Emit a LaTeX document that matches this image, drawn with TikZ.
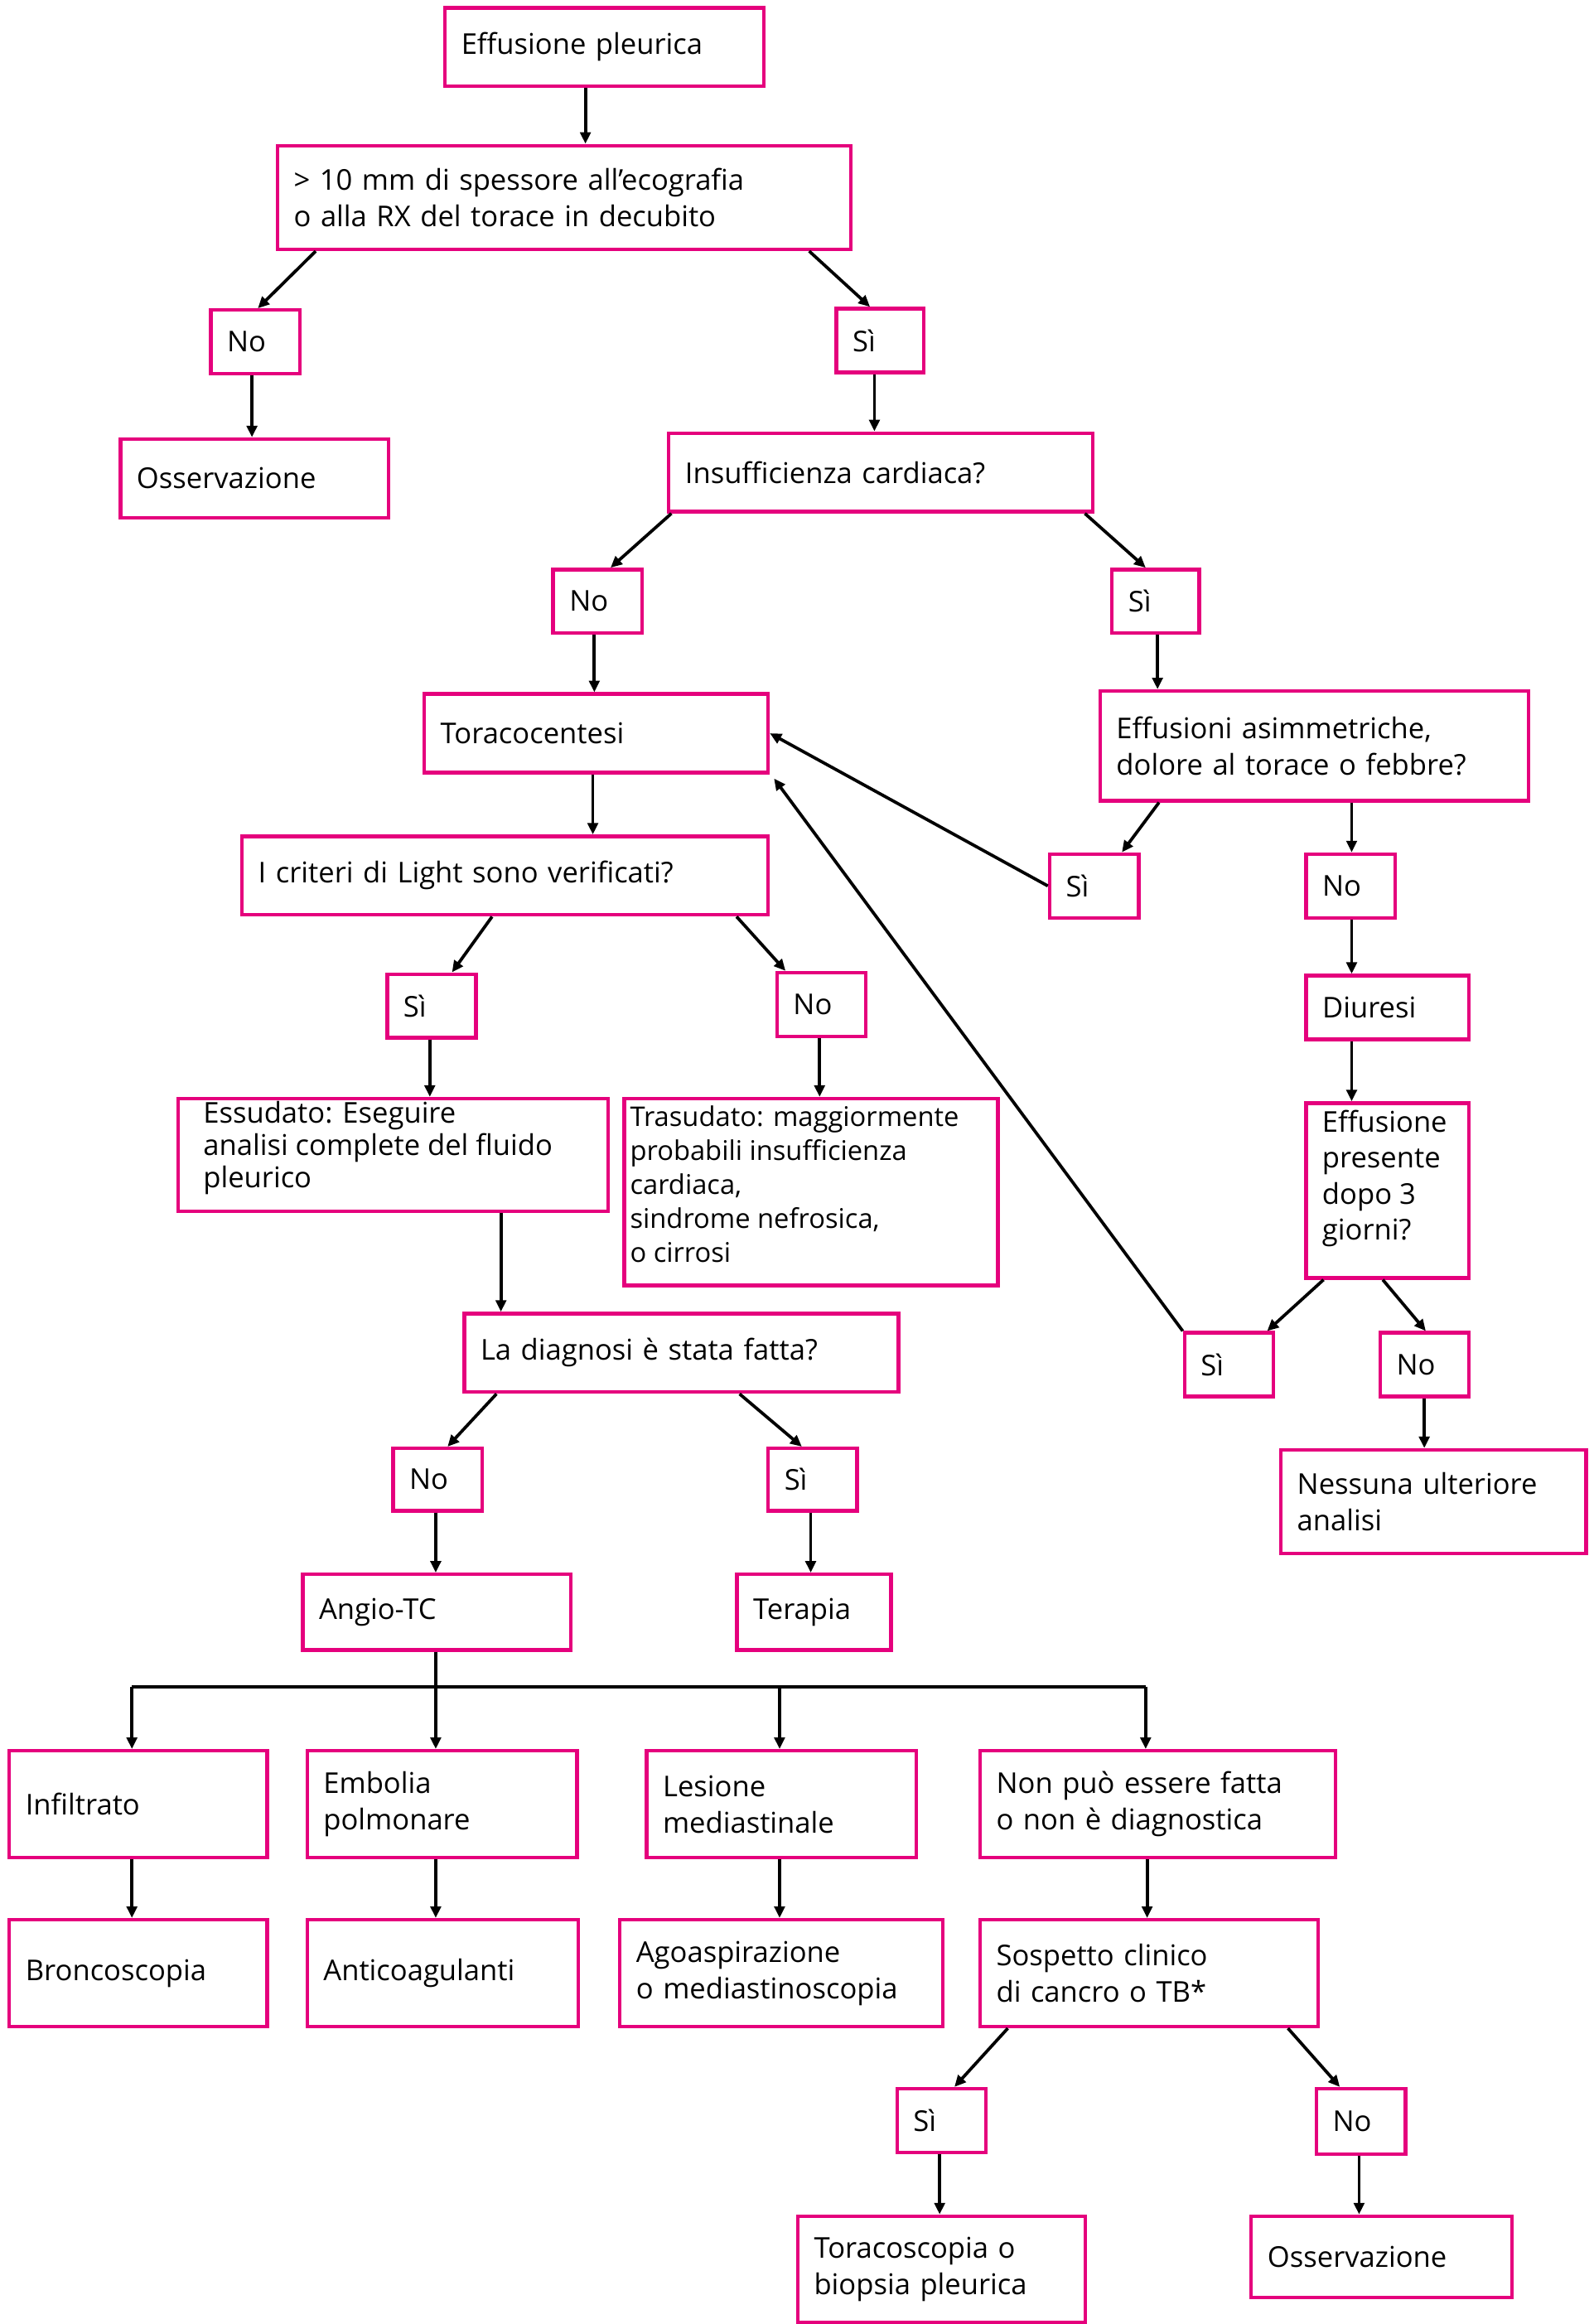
\documentclass[tikz,border=0pt]{standalone}
\usepackage{fontspec}
\setmainfont{Open Sans}
\usetikzlibrary{arrows.meta}
\definecolor{pk}{HTML}{E5007D}
\newcommand\bx[6]{%
\pgfmathsetmacro\bw{(#4-#2)*0.05}\pgfmathsetmacro\bh{(#5-#3)*0.05}\pgfmathsetmacro\tw{\bw-1.1}%
\node[box,minimum width=\bw cm,minimum height=\bh cm,text width=\tw cm,anchor=north west] (#1) at (#2,#3) {#6};}
\begin{document}
\begin{tikzpicture}[x=0.05cm,y=-0.05cm,
 box/.style={draw=pk,line width=3.5pt,inner xsep=0.55cm,inner ysep=0pt,align=left,font=\fontsize{27.5}{35}\selectfont},
 arr/.style={line width=3pt,-{Triangle[length=11pt,width=10pt]}},
 ln/.style={line width=3pt}]
\useasboundingbox (0,0) rectangle (1075,1568);
\bx{n1}{299}{4}{514}{57}{Effusione pleurica}
\bx{n2}{186}{97}{573}{167}{> 10 mm di spessore all'ecografia\\o alla RX del torace in decubito}
\bx{n3}{141}{208}{201}{251}{No}
\bx{n4}{563}{207}{622}{250}{Sì}
\bx{n5}{80}{295}{261}{348}{Osservazione}
\bx{n6}{450}{291}{736}{344}{Insufficienza cardiaca?}
\bx{n7}{372}{383}{432}{426}{No}
\bx{n8}{749}{383}{808}{426}{Sì}
\bx{n9}{285}{467}{517}{520}{Toracocentesi}
\bx{n10}{741}{465}{1030}{539}{Effusioni asimmetriche,\\dolore al torace o febbre?}
\bx{n11}{162}{563}{517}{616}{I criteri di Light sono verificati?}
\bx{n12}{707}{575}{767}{618}{Sì}
\bx{n13}{880}{575}{940}{618}{No}
\bx{n14}{260}{656}{320}{699}{Sì}
\bx{n15}{523}{655}{583}{698}{No}
\bx{n16}{880}{657}{990}{700}{Diuresi}
\node[draw=pk,line width=3.5pt,minimum width=14.5cm,minimum height=3.8cm,anchor=north west,inner sep=0pt] (n17) at (119,740) {};
\node[anchor=north west,align=left,font=\fontsize{27.5}{31}\selectfont,inner sep=0pt] at (137,743) {Essudato: Eseguire\\analisi complete del fluido\\pleurico};
\node[draw=pk,line width=3.5pt,minimum width=12.6cm,minimum height=6.3cm,anchor=north west,inner sep=0pt] (n18) at (420,740) {};
\node[anchor=north west,align=left,font=\fontsize{26}{32.5}\selectfont,inner sep=0pt] at (425,746) {Trasudato: maggiormente\\probabili insufficienza\\cardiaca,\\sindrome nefrosica,\\o cirrosi};
\node[draw=pk,line width=3.5pt,minimum width=5.5cm,minimum height=5.9cm,anchor=north west,inner sep=0pt] (n19) at (880,743) {};
\node[anchor=north west,align=left,font=\fontsize{27.5}{34.5}\selectfont,inner sep=0pt] at (892,749) {Effusione\\presente\\dopo 3\\giorni?};
\bx{n20}{312}{885}{605}{938}{La diagnosi è stata fatta?}
\bx{n21}{798}{898}{858}{941}{Sì}
\bx{n22}{930}{898}{990}{941}{No}
\bx{n23}{264}{976}{324}{1018}{No}
\bx{n24}{517}{976}{577}{1018}{Sì}
\bx{n25}{863}{977}{1069}{1047}{Nessuna ulteriore\\analisi}
\bx{n26}{203}{1061}{384}{1112}{Angio-TC}
\bx{n27}{496}{1061}{600}{1112}{Terapia}
\bx{n28}{5}{1180}{179}{1252}{Infiltrato}
\bx{n29}{206}{1180}{388}{1252}{Embolia\\polmonare}
\bx{n30}{435}{1180}{617}{1252}{Lesione\\mediastinale}
\bx{n31}{660}{1180}{900}{1252}{Non può essere fatta\\o non è diagnostica}
\bx{n32}{5}{1294}{179}{1366}{Broncoscopia}
\bx{n33}{206}{1294}{389}{1366}{Anticoagulanti}
\bx{n34}{417}{1294}{635}{1366}{Agoaspirazione\\o mediastinoscopia}
\bx{n35}{660}{1294}{888}{1366}{Sospetto clinico\\di cancro o TB*}
\bx{n36}{604}{1408}{664}{1451}{Sì}
\bx{n37}{887}{1408}{947}{1452}{No}
\bx{n38}{537}{1494}{731}{1566}{Toracoscopia o\\biopsia pleurica}
\bx{n39}{843}{1494}{1019}{1549}{Osservazione}
% connectors
\draw[arr] (395,0 |- n1.south) -- (395,0 |- n2.north);
\draw[arr] (213,0 |- n2.south) -- (174,0 |- n3.north);
\draw[arr] (546,0 |- n2.south) -- (587,0 |- n4.north);
\draw[arr] (170,0 |- n3.south) -- (170,0 |- n5.north);
\draw[arr] (590,0 |- n4.south) -- (590,0 |- n6.north);
\draw[arr] (453,0 |- n6.south) -- (412,0 |- n7.north);
\draw[arr] (732,0 |- n6.south) -- (773,0 |- n8.north);
\draw[arr] (401,0 |- n7.south) -- (401,0 |- n9.north);
\draw[arr] (781,0 |- n8.south) -- (781,0 |- n10.north);
\draw[arr] (400,0 |- n9.south) -- (400,0 |- n11.north);
\draw[arr] (782,0 |- n10.south) -- (757,0 |- n12.north);
\draw[arr] (912,0 |- n10.south) -- (912,0 |- n13.north);
\draw[arr] (n12.west) -- (n9.east);
\draw[arr] (332,0 |- n11.south) -- (305,0 |- n14.north);
\draw[arr] (497,0 |- n11.south) -- (530,0 |- n15.north);
\draw[arr] (912,0 |- n13.south) -- (912,0 |- n16.north);
\draw[arr] (912,0 |- n16.south) -- (912,0 |- n19.north);
\draw[arr] (290,0 |- n14.south) -- (290,0 |- n17.north);
\draw[arr] (553,0 |- n15.south) -- (553,0 |- n18.north);
\draw[arr] (338,0 |- n17.south) -- (338,0 |- n20.north);
\draw[arr] (893,0 |- n19.south) -- (855,0 |- n21.north);
\draw[arr] (933,0 |- n19.south) -- (962,0 |- n22.north);
\draw[arr] (n21.north west) -- ([xshift=4pt,yshift=-4pt]n9.south east);
\draw[arr] (961,0 |- n22.south) -- (961,0 |- n25.north);
\draw[arr] (335,0 |- n20.south) -- (302,0 |- n23.north);
\draw[arr] (499,0 |- n20.south) -- (541,0 |- n24.north);
\draw[arr] (294,0 |- n23.south) -- (294,0 |- n26.north);
\draw[arr] (547,0 |- n24.south) -- (547,0 |- n27.north);
\coordinate (hl) at (89,1138);
\coordinate (hr) at (773,1138);
\draw[arr] (294,0 |- n26.south) -- (294,0 |- n29.north);
\draw[ln] (hl) -- (hr);
\draw[arr] (hl) -- (89,0 |- n28.north);
\draw[arr] (526,1138) -- (526,0 |- n30.north);
\draw[arr] (hr) -- (773,0 |- n31.north);
\draw[arr] (89,0 |- n28.south) -- (89,0 |- n32.north);
\draw[arr] (294,0 |- n29.south) -- (294,0 |- n33.north);
\draw[arr] (526,0 |- n30.south) -- (526,0 |- n34.north);
\draw[arr] (774,0 |- n31.south) -- (774,0 |- n35.north);
\draw[arr] (680,0 |- n35.south) -- (644,0 |- n36.north);
\draw[arr] (869,0 |- n35.south) -- (904,0 |- n37.north);
\draw[arr] (634,0 |- n36.south) -- (634,0 |- n38.north);
\draw[arr] (917,0 |- n37.south) -- (917,0 |- n39.north);
\end{tikzpicture}
\end{document}
